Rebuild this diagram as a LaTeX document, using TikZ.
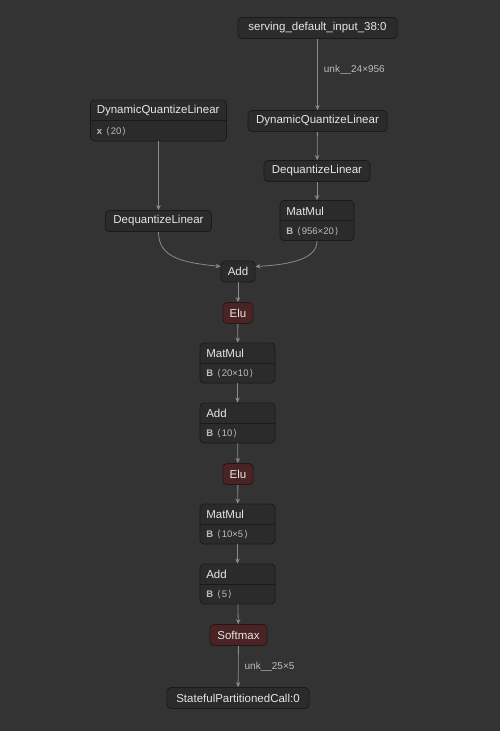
\documentclass[tikz,border=0pt]{standalone}
\usepackage{fontspec}
\setmainfont{Liberation Sans}
\newfontfamily\bracketfont{DejaVu Sans}
\usetikzlibrary{arrows.meta,calc}
\definecolor{bgcol}{HTML}{333333}
\definecolor{boxfill}{HTML}{2B2B2B}
\definecolor{boxline}{HTML}{1A1A1A}
\definecolor{elufill}{HTML}{4A2424}
\definecolor{eluline}{HTML}{2A1414}
\definecolor{labeltext}{HTML}{E6E6E6}
\definecolor{attrcol}{HTML}{BDBDBD}
\definecolor{edgecol}{HTML}{8A8A8A}
\newcommand{\attr}[2]{\textbf{#1}\hspace{4pt}{\bracketfont\char"27E8}\hspace{1pt}#2\hspace{1pt}{\bracketfont\char"27E9}}

\tikzset{
  opbox/.style={draw=boxline,fill=boxfill,rounded corners=4pt,line width=0.8pt,
    minimum height=21pt,inner sep=0pt,text=labeltext,font=\fontsize{11.5}{13}\selectfont},
  actbox/.style={opbox,draw=eluline,fill=elufill},
  attrbox/.style={draw=boxline,fill=boxfill,rounded corners=4pt,line width=0.8pt,
    minimum height=40pt,inner sep=0pt},
  titletext/.style={anchor=west,inner xsep=6.5pt,inner ysep=0pt,text=labeltext,
    font=\fontsize{11.5}{13}\selectfont},
  attrtext/.style={anchor=west,inner xsep=6.5pt,inner ysep=0pt,text=attrcol,
    font=\fontsize{9.5}{11}\selectfont},
  divider/.style={draw=boxline,line width=0.8pt},
  edge/.style={draw=edgecol,line width=0.8pt,-{Stealth[length=5pt,width=4.5pt]}},
  edgelabel/.style={anchor=west,inner sep=0pt,text=attrcol,font=\fontsize{10}{12}\selectfont}
}

\begin{document}
\begin{tikzpicture}[x=1pt,y=-1pt]
  \fill[bgcol] (0,0) rectangle (500,731);
  \useasboundingbox (0,0) rectangle (500,731);

  % right branch
  \node[opbox,minimum width=159pt] (input) at (317.5,28) {serving\_default\_input\_38:0};
  \node[opbox,minimum width=139pt] (dqlB) at (317.5,121) {DynamicQuantizeLinear};
  \node[opbox,minimum width=106pt] (deqB) at (317,171) {DequantizeLinear};
  \node[attrbox,minimum width=74pt] (mmB) at (317,220.5) {};
  \node[titletext] at ($(mmB.north west)+(0,11)$) {MatMul};
  \draw[divider] (mmB.west) -- (mmB.east);
  \node[attrtext] at ($(mmB.south west)+(0,-9.5)$) {\attr{B}{956×20}};

  % left branch
  \node[attrbox,minimum width=136pt,minimum height=41pt] (dqlA) at (158.5,120.5) {};
  \node[titletext] at ($(dqlA.north west)+(0,11)$) {DynamicQuantizeLinear};
  \draw[divider] (dqlA.west) -- (dqlA.east);
  \node[attrtext] at ($(dqlA.south west)+(0,-9.5)$) {\attr{x}{20}};
  \node[opbox,minimum width=106pt] (deqA) at (158.5,221) {DequantizeLinear};

  % main chain
  \node[opbox,minimum width=34pt] (add1) at (238,271.5) {Add};
  \node[actbox,minimum width=30pt] (elu1) at (238,313) {Elu};
  \node[attrbox,minimum width=75pt] (mm1) at (237.5,363) {};
  \node[titletext] at ($(mm1.north west)+(0,11)$) {MatMul};
  \draw[divider] (mm1.west) -- (mm1.east);
  \node[attrtext] at ($(mm1.south west)+(0,-9.5)$) {\attr{B}{20×10}};
  \node[attrbox,minimum width=75pt] (add2) at (237.5,423) {};
  \node[titletext] at ($(add2.north west)+(0,11)$) {Add};
  \draw[divider] (add2.west) -- (add2.east);
  \node[attrtext] at ($(add2.south west)+(0,-9.5)$) {\attr{B}{10}};
  \node[actbox,minimum width=30pt] (elu2) at (238,474) {Elu};
  \node[attrbox,minimum width=75pt] (mm2) at (237.5,524) {};
  \node[titletext] at ($(mm2.north west)+(0,11)$) {MatMul};
  \draw[divider] (mm2.west) -- (mm2.east);
  \node[attrtext] at ($(mm2.south west)+(0,-9.5)$) {\attr{B}{10×5}};
  \node[attrbox,minimum width=75pt] (add3) at (237.5,584) {};
  \node[titletext] at ($(add3.north west)+(0,11)$) {Add};
  \draw[divider] (add3.west) -- (add3.east);
  \node[attrtext] at ($(add3.south west)+(0,-9.5)$) {\attr{B}{5}};
  \node[actbox,minimum width=57pt] (smax) at (238.5,635) {Softmax};
  \node[opbox,minimum width=142pt] (output) at (238,698) {StatefulPartitionedCall:0};

  % connectors
  \draw[edge] (input) -- node[edgelabel,pos=0.43,xshift=6pt] {unk\_\_24×956} (dqlB);
  \draw[edge] (dqlB) -- (deqB);
  \draw[edge] (deqB) -- (mmB);
  \draw[edge] (dqlA) -- (deqA);
  \draw[edge] (deqA.south) .. controls ($(deqA.south)+(0,26)$) and ($(add1.west)+(-38,-9)$) .. ($(add1.west)+(0,-5)$);
  \draw[edge] (mmB.south) .. controls ($(mmB.south)+(0,18)$) and ($(add1.east)+(36,-7)$) .. ($(add1.east)+(0,-5)$);
  \draw[edge] (add1) -- (elu1);
  \draw[edge] (elu1) -- (mm1);
  \draw[edge] (mm1) -- (add2);
  \draw[edge] (add2) -- (elu2);
  \draw[edge] (elu2) -- (mm2);
  \draw[edge] (mm2) -- (add3);
  \draw[edge] (add3) -- (smax);
  \draw[edge] (smax) -- node[edgelabel,pos=0.5,xshift=6pt] {unk\_\_25×5} (output);
\end{tikzpicture}
\end{document}
